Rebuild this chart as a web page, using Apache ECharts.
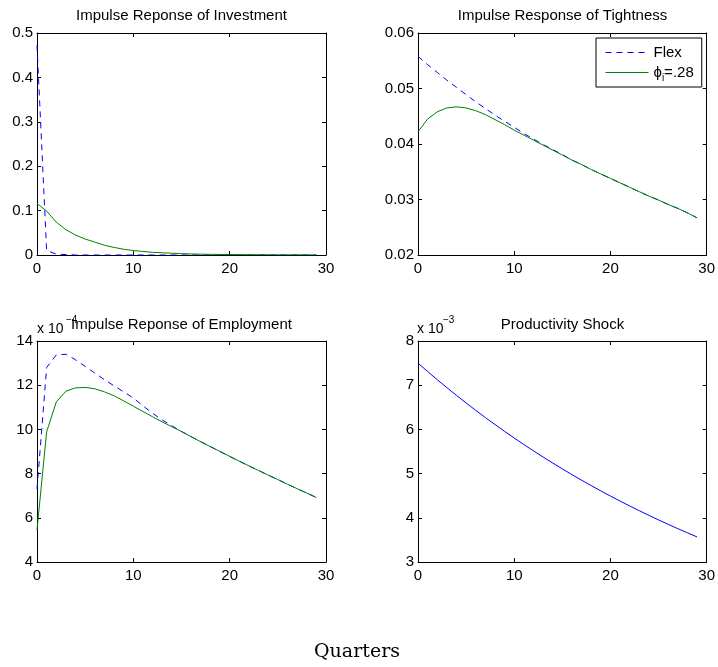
<!DOCTYPE html>
<html>
<head>
<meta charset="utf-8">
<script src="https://cdn.jsdelivr.net/npm/echarts@6/dist/echarts.min.js"></script>
<style>
html,body{margin:0;padding:0;background:#fff;}
#chart{width:718px;height:667px;}
</style>
</head>
<body>
<div id="chart"></div>
<script>
// ---- data ----
var quarters = [0,1,2,3,4,5,6,7,8,9,10,11,12,13,14,15,16,17,18,19,20,21,22,23,24,25,26,27,28,29];

var investmentFlex = [0.472,0.010,0.002,0.001,0,0,0,0,0,0,0,0,0,0,0,0,0,0,0,0,0,0,0,0,0,0,0,0,0,0];
var investmentPhi = [0.116,0.099,0.074,0.057,0.045,0.036,0.029,0.022,0.017,0.013,0.010,0.008,0.006,0.005,0.004,0.003,0.0024,0.0019,0.0015,0.0012,0.0010,0.0008,0.0007,0.0006,0.0005,0.0004,0.0003,0.0003,0.0002,0.0002];

var tightnessFlex = [0.0558,0.0543,0.0529,0.0515,0.0502,0.0489,0.0476,0.0464,0.0452,0.0441,0.0430,0.0419,0.0409,0.0399,0.0390,0.0381,0.0371,0.0363,0.0354,0.0346,0.0338,0.0330,0.0322,0.0314,0.0306,0.0299,0.0291,0.0284,0.0276,0.0267];
var tightnessPhi = [0.0422,0.0445,0.0458,0.0465,0.0467,0.0465,0.0460,0.0453,0.0444,0.0435,0.0425,0.0416,0.0407,0.0398,0.0389,0.0380,0.0371,0.0363,0.0354,0.0346,0.0338,0.0330,0.0322,0.0314,0.0306,0.0299,0.0291,0.0284,0.0276,0.0267];

// employment, in units of 1e-4
var employmentFlex = [7.30,12.80,13.37,13.40,13.15,12.85,12.55,12.25,11.97,11.70,11.42,11.07,10.73,10.43,10.16,9.91,9.67,9.44,9.22,9.00,8.78,8.56,8.35,8.14,7.93,7.73,7.52,7.32,7.12,6.92];
var employmentPhi = [5.45,9.89,11.24,11.73,11.88,11.90,11.84,11.70,11.52,11.29,11.05,10.81,10.57,10.34,10.12,9.90,9.67,9.44,9.22,9.00,8.78,8.56,8.35,8.14,7.93,7.73,7.52,7.32,7.12,6.92];

// productivity shock, in units of 1e-3
var productivity = [7.500,7.310,7.125,6.945,6.769,6.598,6.431,6.268,6.110,5.955,5.805,5.658,5.515,5.375,5.239,5.107,4.977,4.851,4.729,4.609,4.492,4.379,4.268,4.160,4.055,3.952,3.852,3.755,3.660,3.567];

var titles = ['Impulse Reponse of Investment','Impulse Response of Tightness','Impulse Reponse of Employment','Productivity Shock'];
var xTicks = {min:0,max:30,interval:10};
var yTicks = [
  {min:0,max:0.5,interval:0.1},
  {min:0.02,max:0.06,interval:0.01},
  {min:4,max:14,interval:2},
  {min:3,max:8,interval:1}
];
var legendNames = ['Flex','phi'];
var xLabel = 'Quarters';

// ---- layout ----
var FONT = 'Liberation Sans, Arial, Helvetica, sans-serif';
var grids = [
  {left:37, top:33, width:289, height:222},
  {left:418, top:33, width:289, height:222},
  {left:37, top:341, width:289, height:221},
  {left:418, top:341, width:289, height:221}
];

function pairs(ys){ return quarters.map(function(q,i){ return [q, ys[i]]; }); }

var xAxes = [], yAxes = [];
grids.forEach(function(g, i){
  var common = {
    gridIndex:i, type:'value', splitLine:{show:false},
    axisLine:{show:true, onZero:false, lineStyle:{color:'#000', width:1}},
    axisTick:{show:true, inside:true, length:4, lineStyle:{color:'#000'}}
  };
  xAxes.push(Object.assign({}, common, {position:'bottom', min:xTicks.min, max:xTicks.max, interval:xTicks.interval,
    axisLabel:{show:true, color:'#000', fontFamily:FONT, fontSize:15, margin:6}}));
  xAxes.push(Object.assign({}, common, {position:'top', min:xTicks.min, max:xTicks.max, interval:xTicks.interval,
    axisLabel:{show:false}}));
  var yt = yTicks[i];
  yAxes.push(Object.assign({}, common, {position:'left', min:yt.min, max:yt.max, interval:yt.interval,
    axisLabel:{show:true, color:'#000', fontFamily:FONT, fontSize:15, margin:4,
      formatter:function(v){ return String(Math.round(v*1000)/1000); }}}));
  yAxes.push(Object.assign({}, common, {position:'right', min:yt.min, max:yt.max, interval:yt.interval,
    axisLabel:{show:false}}));
});

var blueDash = {color:'#0000ff', width:1, type:[6,5]};
var greenSolid = {color:'#008000', width:1, type:'solid'};

function line(name, grid, ys, style){
  return {name:name, type:'line', xAxisIndex:grid*2, yAxisIndex:grid*2, data:pairs(ys),
    showSymbol:false, symbol:'none', lineStyle:style, itemStyle:{color:style.color},
    animation:false, silent:true, z:3};
}

var series = [
  line('Flex', 0, investmentFlex, blueDash),
  line('phi', 0, investmentPhi, greenSolid),
  line('Flex', 1, tightnessFlex, blueDash),
  line('phi', 1, tightnessPhi, greenSolid),
  line('Flex', 2, employmentFlex, blueDash),
  line('phi', 2, employmentPhi, greenSolid),
  line('Productivity', 3, productivity, {color:'#0000ff', width:1, type:'solid'})
];

var graphics = [];
grids.forEach(function(g, i){
  graphics.push({type:'text', x:g.left + g.width/2, y:(i<2?15.5:324.5),
    style:{text:titles[i], fill:'#000', font:'15px ' + FONT, textAlign:'center', textVerticalAlign:'middle'}, z:10});
});
// exponent labels
graphics.push({type:'text', x:37, y:329, style:{text:'x 10', fill:'#000', font:'14px ' + FONT, textAlign:'left', textVerticalAlign:'middle'}, z:9});
graphics.push({type:'text', x:66, y:320, style:{text:'\u22124', fill:'#000', font:'10px ' + FONT, textAlign:'left', textVerticalAlign:'middle'}, z:9});
graphics.push({type:'text', x:417, y:329, style:{text:'x 10', fill:'#000', font:'14px ' + FONT, textAlign:'left', textVerticalAlign:'middle'}, z:9});
graphics.push({type:'text', x:443, y:320, style:{text:'\u22123', fill:'#000', font:'10px ' + FONT, textAlign:'left', textVerticalAlign:'middle'}, z:9});
// x label
graphics.push({type:'text', x:357, y:652, style:{text:xLabel, fill:'#000', font:'19px DejaVu Serif, serif', textAlign:'center', textVerticalAlign:'middle'}, z:9});

var chart = echarts.init(document.getElementById('chart'), null, {renderer:'canvas'});
chart.setOption({
  backgroundColor:'#fff',
  animation:false,
  grid: grids.map(function(g){ return Object.assign({containLabel:false, show:false}, g); }),
  xAxis: xAxes,
  yAxis: yAxes,
  legend: {
    data: legendNames,
    orient:'vertical', left:596, top:38, width:103,
    backgroundColor:'#fff', borderColor:'#000', borderWidth:1,
    padding:[7,8,4,9], itemGap:5, itemWidth:43, itemHeight:14,
    selectedMode:false,
    itemStyle:{color:'rgba(0,0,0,0)', borderColor:'rgba(0,0,0,0)', borderWidth:0, opacity:0},
    lineStyle:{width:1},
    textStyle:{color:'#000', fontFamily:FONT, fontSize:15,
      rich:{
        a:{fontFamily:FONT, fontSize:15, lineHeight:15, color:'#000', verticalAlign:'top'},
        s:{fontFamily:FONT, fontSize:10, lineHeight:10, color:'#000', verticalAlign:'top', padding:[8,0,0,0]}
      }},
    formatter:function(n){ return n === 'phi' ? '{a|\u03d5}{s|i}{a|=.28}' : n; }
  },
  series: series,
  graphic: graphics
});
</script>
</body>
</html>
